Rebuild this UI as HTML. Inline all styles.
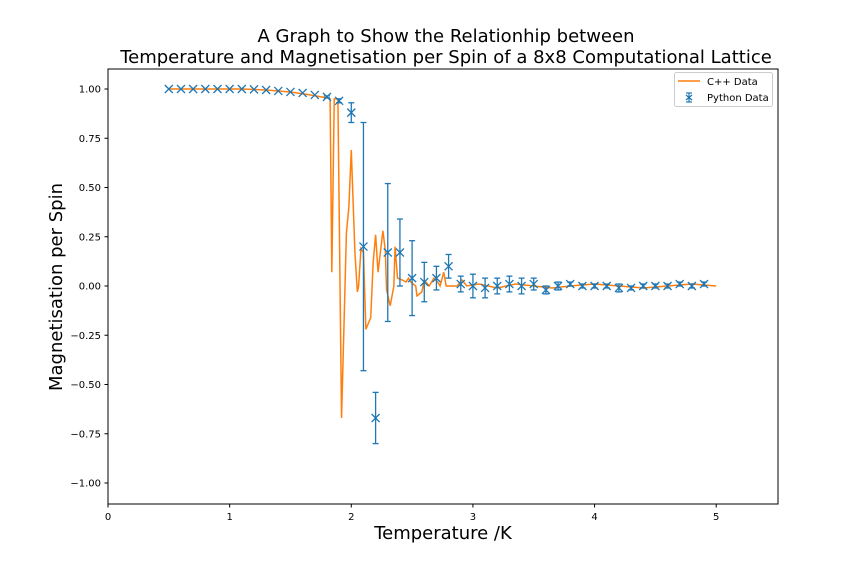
<!DOCTYPE html>
<html><head><meta charset="utf-8"><style>
body{margin:0;background:#fff;}
svg{display:block;font-family:"DejaVu Sans","Liberation Sans",sans-serif;}
</style></head><body>
<svg id="chart" width="864" height="576" xmlns="http://www.w3.org/2000/svg">
<text x="446" y="42" text-anchor="middle" font-size="18">A Graph to Show the Relationhip between</text>
<text x="446" y="63" text-anchor="middle" font-size="18">Temperature and Magnetisation per Spin of a 8x8 Computational Lattice</text>
<text x="443" y="539" text-anchor="middle" font-size="18">Temperature /K</text>
<text transform="translate(62,287) rotate(-90)" text-anchor="middle" font-size="18">Magnetisation per Spin</text>
<g id="plot"></g>
<rect x="108" y="69" width="670" height="435" fill="none" stroke="#000" stroke-width="1"/>
<g>
<rect x="674.5" y="72.5" width="98" height="34" rx="2" fill="#fff" stroke="#ccc"/>
<line x1="678" y1="81" x2="700" y2="81" stroke="#ff7f0e" stroke-width="1.5"/>
<text x="707" y="85" font-size="10">C++ Data</text>
<g stroke="#1f77b4" stroke-width="1.2">
<line x1="689" y1="93" x2="689" y2="102"/><line x1="686" y1="93" x2="692" y2="93"/><line x1="686" y1="102" x2="692" y2="102"/>
<line x1="686" y1="95" x2="692" y2="100"/><line x1="686" y1="100" x2="692" y2="95"/></g>
<text x="707" y="101" font-size="10">Python Data</text>
</g>
</svg>
<script>
const xTicks=[0,1,2,3,4,5];
const yTicks=[1.00,0.75,0.50,0.25,0.00,-0.25,-0.50,-0.75,-1.00];
const yTickLabels=["1.00","0.75","0.50","0.25","0.00","\u22120.25","\u22120.50","\u22120.75","\u22121.00"];
const pyT=[0.5,0.6,0.7,0.8,0.9,1.0,1.1,1.2,1.3,1.4,1.5,1.6,1.7,1.8,1.9,2.0,2.1,2.2,2.3,2.4,2.5,2.6,2.7,2.8,2.9,3.0,3.1,3.2,3.3,3.4,3.5,3.6,3.7,3.8,3.9,4.0,4.1,4.2,4.3,4.4,4.5,4.6,4.7,4.8,4.9];
const pyM=[1,1,1,1,1,1,1,0.998,0.995,0.99,0.985,0.98,0.97,0.96,0.94,0.88,0.20,-0.67,0.17,0.17,0.04,0.02,0.04,0.10,0.01,0.0,-0.01,0.0,0.01,0.0,0.01,-0.02,0.0,0.01,0.0,0.0,0.0,-0.01,-0.01,0.0,0.0,0.0,0.01,0.0,0.01];
const pyErr=[0,0,0,0,0,0,0,0,0,0,0,0,0,0.005,0.01,0.05,0.63,0.13,0.35,0.17,0.19,0.10,0.06,0.06,0.04,0.06,0.05,0.04,0.04,0.04,0.03,0.02,0.02,0.01,0.01,0.01,0.01,0.02,0.01,0.01,0.01,0.01,0.01,0.01,0.01];
const cT=[0.5,0.7,0.9,1.1,1.3,1.5,1.66,1.8,1.826,1.84,1.86,1.89,1.92,1.96,1.98,2.0,2.03,2.05,2.06,2.08,2.1,2.12,2.16,2.18,2.2,2.22,2.26,2.28,2.29,2.32,2.35,2.36,2.38,2.42,2.45,2.47,2.49,2.53,2.54,2.58,2.6,2.64,2.68,2.71,2.73,2.76,2.78,2.87,2.91,2.95,3.05,3.2,3.35,3.5,3.65,3.8,4.0,4.2,4.4,4.6,4.8,5.0];
const cM=[1,1,1,1,0.995,0.985,0.97,0.955,0.95,0.07,0.95,0.95,-0.67,0.27,0.40,0.69,0.17,-0.03,0.0,0.19,0.17,-0.22,-0.16,0.12,0.26,0.07,0.28,0.18,-0.02,-0.10,0.0,0.20,0.04,0.03,0.02,0.04,0.02,0.0,-0.05,-0.03,0.03,0.0,0.04,0.02,0.0,0.07,0.0,0.0,0.03,0.0,0.01,-0.01,0.01,0.0,-0.01,0.0,0.01,0.0,-0.01,0.0,0.01,0.0];
const X=v=>108+v*121.64, Y=v=>286-v*197;
const NS="http://www.w3.org/2000/svg";
const g=document.getElementById('plot');
function mk(tag,attrs,parent){const e=document.createElementNS(NS,tag);for(const k in attrs)e.setAttribute(k,attrs[k]);(parent||g).appendChild(e);return e;}
xTicks.forEach(t=>{
  const l=mk('line',{x1:X(t),x2:X(t),y1:504,y2:507.5,stroke:'#000'});
  
  
  const tx=mk('text',{x:X(t),y:520,'text-anchor':'middle','font-size':10});tx.textContent=t;
  
  
});
yTicks.forEach((t,i)=>{
  const l=mk('line',{x1:104.5,x2:108,y1:Y(t),y2:Y(t),stroke:'#000'});
  
  
  const tx=mk('text',{x:101,y:Y(t)+3.5,'text-anchor':'end','font-size':10});tx.textContent=yTickLabels[i];
  
  
});
const line=mk('polyline',{points:cT.map((t,i)=>X(t)+','+Y(cM[i])).join(' '),fill:'none',stroke:'#ff7f0e','stroke-width':1.5});


pyT.forEach((t,i)=>{
  const x=X(t),y=Y(pyM[i]),e=pyErr[i];
  const grp=mk('g',{stroke:'#1f77b4','stroke-width':1.3});
  
  
  if(e>0){const y1=Y(pyM[i]+e),y2=Y(pyM[i]-e);
    mk('line',{x1:x,x2:x,y1:y1,y2:y2},grp);
    mk('line',{x1:x-3,x2:x+3,y1:y1,y2:y1},grp);
    mk('line',{x1:x-3,x2:x+3,y1:y2,y2:y2},grp);}
  mk('line',{x1:x-4,x2:x+4,y1:y-4,y2:y+4},grp);
  mk('line',{x1:x-4,x2:x+4,y1:y+4,y2:y-4},grp);
});
</script>
</body></html>
